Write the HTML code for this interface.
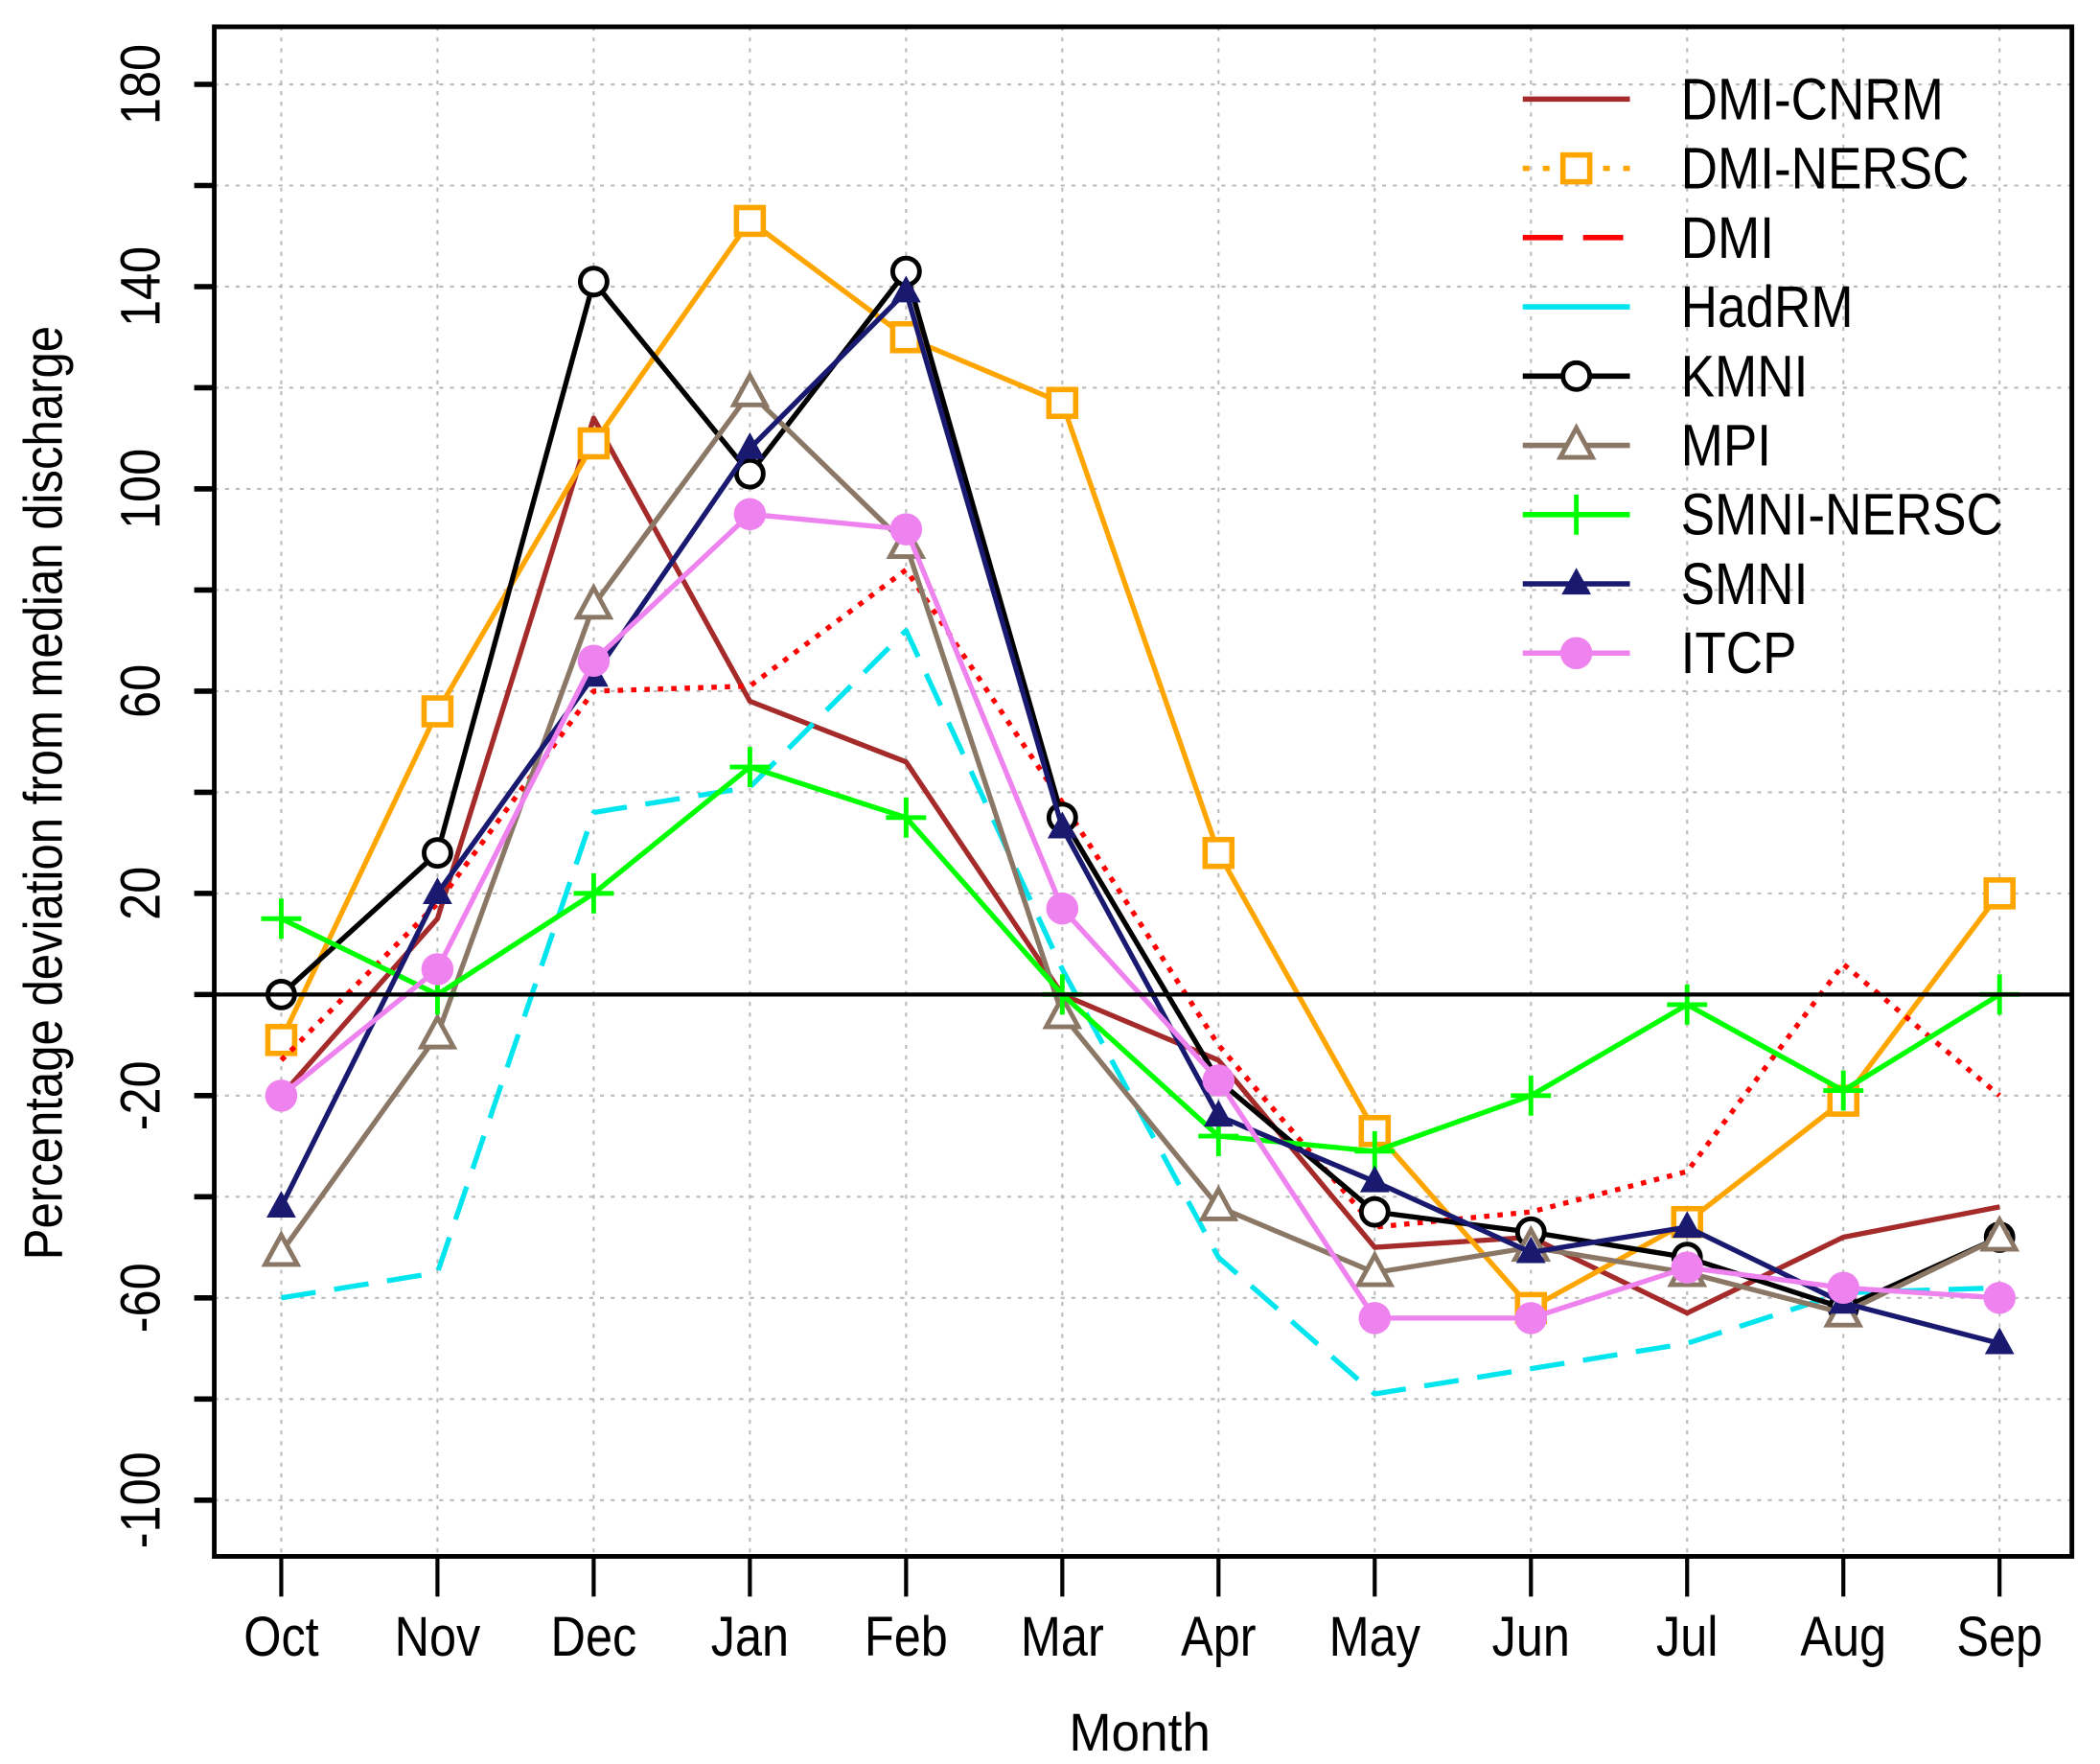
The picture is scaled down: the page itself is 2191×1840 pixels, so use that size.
<!DOCTYPE html>
<html><head><meta charset="utf-8"><style>
html,body{margin:0;padding:0;background:#fff;}
svg{display:block;font-family:"Liberation Sans",sans-serif;}
</style></head><body>
<svg id="chart" width="2191" height="1840" viewBox="0 0 1568 1317" preserveAspectRatio="none" xmlns="http://www.w3.org/2000/svg">
<g id="grid"></g>
<g id="series"></g>
<g id="axes"></g>
<g id="legend"></g>
<text x="851" y="1307" font-size="40" text-anchor="middle" transform="translate(851,0) scale(0.95,1) translate(-851,0)">Month</text>
<text transform="translate(46,592) rotate(-90) scale(0.95,1.1)" font-size="37" text-anchor="middle">Percentage deviation from median discharge</text>
</svg>
<script>
const months = ["Oct","Nov","Dec","Jan","Feb","Mar","Apr","May","Jun","Jul","Aug","Sep"];
const yTicks = [180,160,140,120,100,80,60,40,20,0,-20,-40,-60,-80,-100];
const yLabels = ["180","140","100","60","20","-20","-60","-100"];
const seriesNames = ["DMI-CNRM","DMI-NERSC","DMI","HadRM","KMNI","MPI","SMNI-NERSC","SMNI","ITCP"];
const dmiCnrm = [-20,15,114,58,46,0,-13,-50,-48,-63,-48,-42];
const dmiNersc = [-9,56,109,153,130,117,28,-27,-62,-45,-21,20];
const dmi = [-13,18,60,61,84,38,-10,-46,-43,-35,6,-20];
const hadrm = [-60,-55,36,41,72,5,-52,-79,-74,-69,-59,-58];
const kmni = [0,28,141,103,143,35,-17,-43,-47,-52,-62,-48];
const mpi = [-51,-8,77,119,89,-4,-42,-55,-50,-55,-63,-48];
const smniNersc = [15,0,20,45,35,0,-28,-31,-20,-2,-19,0];
const smni = [-42,20,63,108,139,33,-24,-37,-51,-46,-61,-69];
const itcp = [-20,5,66,95,92,17,-17,-64,-64,-54,-58,-60];
const allValues = [dmiCnrm,dmiNersc,dmi,hadrm,kmni,mpi,smniNersc,smni,itcp];
const styles = [
 {c:"#A52A2A",d:"",m:"none"},
 {c:"#FFA500",d:"",m:"square"},
 {c:"#FF0000",d:"4,6",m:"none"},
 {c:"#00E5EE",d:"26,14",m:"none"},
 {c:"#000000",d:"",m:"circle"},
 {c:"#8B7765",d:"",m:"tri"},
 {c:"#00FF00",d:"",m:"plus"},
 {c:"#191970",d:"",m:"ftri"},
 {c:"#EE82EE",d:"",m:"fcircle"}];
const L=160,R=1547,T=20,B=1162;
const xs=i=>210+i*(1493-210)/11;
const ys=v=>742.5-v*3.775;
const NS="http://www.w3.org/2000/svg";
function mk(tag,attrs,parent){const e=document.createElementNS(NS,tag);for(const k in attrs)e.setAttribute(k,attrs[k]);parent.appendChild(e);return e;}
const grid=document.getElementById('grid'),axes=document.getElementById('axes'),ser=document.getElementById('series'),leg=document.getElementById('legend');
yTicks.forEach(v=>{const g=mk('line',{x1:L,x2:R,y1:ys(v),y2:ys(v),stroke:"#bbb","stroke-width":1.5,"stroke-dasharray":"3,5"},grid);


const t=mk('line',{x1:145,x2:L,y1:ys(v),y2:ys(v),stroke:"#000","stroke-width":4},axes);

});
yLabels.forEach(s=>{const v=+s;const t=mk('text',{transform:`translate(119,${ys(v)}) rotate(-90) scale(0.95,1.1)`,"font-size":38,"text-anchor":"middle"},axes);t.textContent=s;

});
months.forEach((m,i)=>{const g=mk('line',{x1:xs(i),x2:xs(i),y1:T,y2:B,stroke:"#bbb","stroke-width":1.5,"stroke-dasharray":"3,5"},grid);


const t=mk('line',{x1:xs(i),x2:xs(i),y1:B,y2:1192,stroke:"#000","stroke-width":3},axes);


const l=mk('text',{transform:`translate(${xs(i)},1236) scale(0.95,1.1)`,"font-size":38,"text-anchor":"middle"},axes);l.textContent=m;

});
const frame=mk('rect',{x:L,y:T,width:R-L,height:B-T,fill:"none",stroke:"#000","stroke-width":3.5},axes);


const zl=mk('line',{x1:L,x2:R,y1:ys(0),y2:ys(0),stroke:"#000","stroke-width":3},axes);


function marker(type,x,y,c,p){let e=null;
 if(type==="square")e=mk('rect',{x:x-10,y:y-10,width:20,height:20,fill:"#fff",stroke:c,"stroke-width":4},p);
 else if(type==="circle")e=mk('circle',{cx:x,cy:y,r:10,fill:"#fff",stroke:c,"stroke-width":3.5},p);
 else if(type==="fcircle")e=mk('circle',{cx:x,cy:y,r:12,fill:c},p);
 else if(type==="tri")e=mk('polygon',{points:`${x},${y-13} ${x-12},${y+9} ${x+12},${y+9}`,fill:"#fff",stroke:c,"stroke-width":3.5},p);
 else if(type==="ftri")e=mk('polygon',{points:`${x},${y-12} ${x-11},${y+8} ${x+11},${y+8}`,fill:c},p);
 else if(type==="plus")e=mk('path',{d:`M${x-15},${y}H${x+15}M${x},${y-15}V${y+15}`,stroke:c,"stroke-width":3.5,fill:"none"},p);
 return e;}
allValues.forEach((vals,si)=>{const s=styles[si];
 const g=mk('g',{},ser);
 
 
 const pl=mk('polyline',{points:vals.map((v,i)=>xs(i)+","+ys(v)).join(" "),fill:"none",stroke:s.c,"stroke-width":3.8,"stroke-dasharray":s.d,"stroke-linejoin":"round"},g);
 
 
 vals.forEach((v,i)=>{const m=marker(s.m,xs(i),ys(v),s.c,g);if(m){
 
 }});
 const ly=74+si*51.7;
 const lg=mk('g',{},leg);
 
 
 mk('line',{x1:1137,x2:1217,y1:ly,y2:ly,stroke:s.c,"stroke-width":4,"stroke-dasharray":si===1?"5,10":(si===2?"30,15":"")},lg);
 if(s.m!=="none")marker(s.m,1177,ly,s.c,lg);
 const t=mk('text',{transform:`translate(1255,${ly+15}) scale(0.95,1.1)`,"font-size":40},lg);t.textContent=seriesNames[si];
});
</script>
</body></html>
